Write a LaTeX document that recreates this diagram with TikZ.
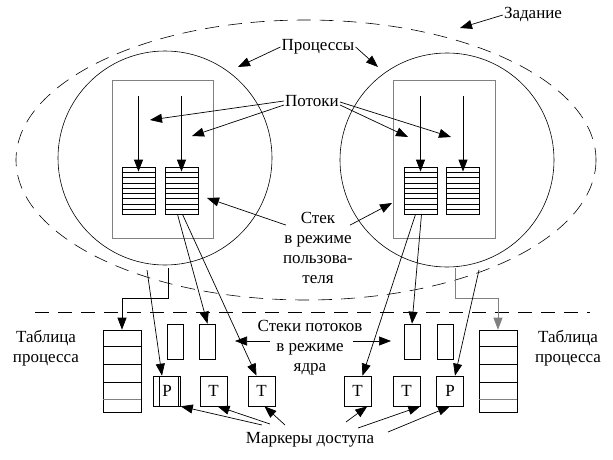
\documentclass[tikz,border=0pt]{standalone}
\usepackage{fontspec}
\setmainfont{Liberation Serif}
\usetikzlibrary{arrows.meta}
\begin{document}
\begin{tikzpicture}[x=1pt,y=-1pt,
  lbl/.style={font=\fontsize{17}{20}\selectfont, align=center, inner sep=1pt},
  arr/.style={-{Triangle[length=12pt,width=9pt]}, line width=0.7pt},
  thin/.style={line width=0.6pt},
  stk/.style={draw, line width=0.8pt, minimum width=33pt, minimum height=47pt, inner sep=0pt,
    path picture={\foreach \k in {1,...,8} \draw[line width=0.8pt] ([yshift=-\k*5.3pt]path picture bounding box.north west) -- ([yshift=-\k*5.3pt]path picture bounding box.north east);}},
  srect/.style={draw, thin, minimum width=16pt, minimum height=35pt, inner sep=0pt},
  tok/.style={draw, thin, minimum width=27pt, minimum height=30pt, inner sep=0pt, font=\fontsize{17}{20}\selectfont},
  tbl/.style={draw, thin, minimum width=38pt, minimum height=82pt, inner sep=0pt}]
\useasboundingbox (0,0) rectangle (613,460);
% job ellipse
\draw[dashed, dash pattern=on 14pt off 9pt, thin] (306,160) ellipse (290 and 140);
\node[lbl] (job) at (533,15) {Задание};
\coordinate (jobt) at (460,28);
\draw[arr] (job.west) -- (jobt);
% process circles
\node[draw, thin, circle, minimum size=214pt] (c1) at (165,158) {};
\node[draw, thin, circle, minimum size=214pt] (c2) at (447,160) {};
\node[draw, gray, line width=0.8pt, minimum width=101pt, minimum height=158pt, inner sep=0pt] (r1) at (162.5,159) {};
\node[draw, gray, line width=0.8pt, minimum width=102pt, minimum height=158pt, inner sep=0pt] (r2) at (444,159) {};
% stacks
\node[stk] (s1) at (138.5,190.5) {};
\node[stk] (s2) at (181.5,190.5) {};
\node[stk] (s3) at (420.5,190.5) {};
\node[stk] (s4) at (463,190.5) {};
% threads
\foreach \s/\x in {s1/138.5,s2/181.5,s3/420.5,s4/463}{
  \coordinate (t\s) at (\x,96);
  \draw[arr, line width=0.9pt] (t\s) -- ([yshift=-5pt]\s.north);
}
% labels top
\node[lbl] (proc) at (318,47) {Процессы};
\coordinate (p1) at (238,67); \coordinate (p2) at (378,67);
\draw[arr] (proc.west) -- (p1);
\draw[arr] (proc.east) -- (p2);
\node[lbl] (pot) at (312,101) {Потоки};
\coordinate (q1) at (150,120); \coordinate (q2) at (192,136);
\coordinate (q3) at (408,137); \coordinate (q4) at (451,137);
\draw[thin,arr] (pot.west) -- (q1);
\draw[thin,arr] ([yshift=-4pt]pot.west) -- (q2);
\draw[thin,arr] ([yshift=-4pt]pot.east) -- (q3);
\draw[thin,arr] ([yshift=-1pt]pot.east) -- (q4);
\node[lbl] (ust) at (318,248) {Стек\\в режиме\\пользова-\\теля};
\coordinate (u1) at (207,198); \coordinate (u2) at (392,203);
\draw[thin,arr] (ust.north west) ++(4,14) coordinate (ua) -- (u1);
\draw[thin,arr] (ust.north east) ++(-4,14) coordinate (ub) -- (u2);
% divider
\coordinate (d1) at (35,312); \coordinate (d2) at (590,312);
\draw[dashed, dash pattern=on 14pt off 9pt, thin] (d1) -- (d2);
% tables
\node[tbl] (tb1) at (122,371) {};
\node[tbl] (tb2) at (498,371) {};
\foreach \t in {tb1,tb2}{
  \foreach \y in {17,35,53}{\draw[thin] ([yshift=-\y pt]\t.north west) -- ([yshift=-\y pt]\t.north east);}
  \draw[gray,thin] ([yshift=-70pt]\t.north west) -- ([yshift=-70pt]\t.north east);
}
\node[lbl] (tl1) at (46,348) {Таблица\\процесса};
\node[lbl] (tl2) at (568,348) {Таблица\\процесса};
% kernel stacks
\node[srect] (k1) at (175.5,341.5) {};
\node[srect] (k2) at (207.5,341.5) {};
\node[srect] (k3) at (412,341.5) {};
\node[srect] (k4) at (445,341.5) {};
% tokens
\node[tok] (P1) at (167,391) {P};
\draw[thin] ([xshift=6pt]P1.north west) -- ([xshift=6pt]P1.south west);
\draw[thin] ([xshift=-3pt]P1.north east) -- ([xshift=-3pt]P1.south east);
\node[tok] (T1) at (213.5,391) {T};
\node[tok] (T2) at (261.5,391) {T};
\node[tok] (T3) at (357.5,391) {T};
\node[tok] (T4) at (406.5,391) {T};
\node[tok] (P2) at (450,391) {P};
% kernel label
\node[lbl] (kst) at (310,348) {Стеки потоков\\в режиме\\ядра};
\coordinate (ka) at (270,341); \coordinate (kb) at (235,341);
\coordinate (kc) at (353,341); \coordinate (kd) at (391,341);
\draw[arr] (ka) -- (kb);
\draw[arr] (kc) -- (kd);
% markers
\node[lbl] (mk) at (310,440) {Маркеры доступа};
\coordinate (m1) at (262,425); \coordinate (m2) at (270,424); \coordinate (m3) at (285,425);
\coordinate (m4) at (346,422); \coordinate (m5) at (358,428); \coordinate (m6) at (388,432);
\draw[thin,arr] (m1) -- (P1.south east);
\draw[thin,arr] (m2) -- ([xshift=4pt]T1.south);
\draw[thin,arr] (m3) -- ([xshift=3pt]T2.south);
\draw[thin,arr] (m4) -- ([xshift=-4pt]T3.south east);
\draw[thin,arr] (m5) -- (T4.south east);
\draw[thin,arr] (m6) -- (P2.south);
% process connections
\coordinate (a1) at (168,268); \coordinate (a2) at (168,298);
\draw[arr] (a1) -- (a2) -| (tb1.north);
\coordinate (b1) at (455,268); \coordinate (b2) at (455,298);
\draw[arr, gray] (b1) -- (b2) -| (tb2.north);
\coordinate (e1) at (147,270); \coordinate (e2) at (479,270);
\draw[thin,arr] (e1) -- ([xshift=-5pt]P1.north);
\draw[thin,arr] (e2) -- ([xshift=5pt]P2.north);
\draw[thin,arr] ([xshift=-4pt]s2.south) -- (k2.north);
\draw[thin,arr] ([xshift=1pt]s2.south) -- ([xshift=-5pt]T2.north);
\draw[thin,arr] ([xshift=-5pt]s3.south) -- ([xshift=5pt]T3.north);
\draw[thin,arr] ([xshift=1pt]s3.south) -- (k3.north);
\end{tikzpicture}
\end{document}
